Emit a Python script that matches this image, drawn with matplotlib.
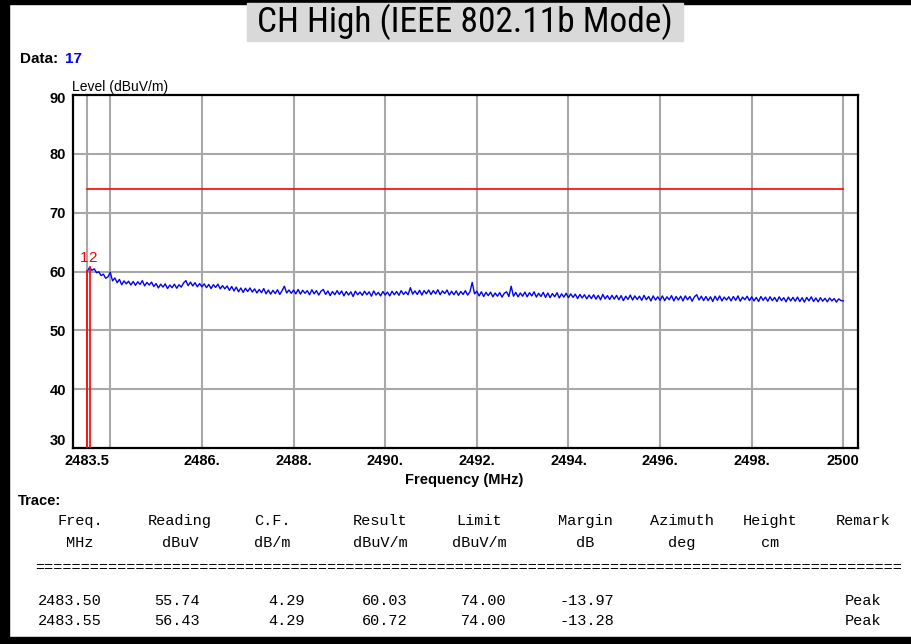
import numpy as np
import matplotlib
matplotlib.use("Agg")
import matplotlib.pyplot as plt
import matplotlib.patches as mpatches
from matplotlib import font_manager
from matplotlib.transforms import ScaledTranslation

# Sweep: 2483.5 - 2500 MHz, 0.05 MHz step (331 points)
freq_start = 2483.5
freq_stop = 2500.0
level = [
    60.03, 60.72, 60.20, 60.45, 59.80, 59.95, 59.30, 59.55, 58.85, 59.10,
    59.85, 58.40, 58.90, 58.10, 58.65, 57.75, 58.40, 57.90, 58.35, 57.70,
    58.30, 57.65, 58.25, 57.80, 58.45, 57.55, 58.15, 57.70, 58.20, 57.45,
    57.95, 57.20, 57.85, 57.35, 57.90, 57.10, 57.70, 57.25, 57.85, 57.15,
    57.75, 57.35, 58.05, 58.45, 57.60, 58.20, 57.55, 58.10, 57.40, 57.95,
    57.40, 57.90, 57.25, 57.80, 57.10, 57.75, 57.30, 57.85, 57.05, 57.60,
    57.05, 57.55, 56.80, 57.45, 56.70, 57.35, 56.55, 57.20, 56.45, 57.15,
    56.60, 57.20, 56.50, 57.05, 56.35, 56.95, 56.40, 57.10, 56.20, 56.85,
    56.15, 56.80, 56.25, 56.90, 56.10, 56.75, 57.50, 56.35, 56.85, 56.30,
    56.85, 56.20, 56.95, 56.15, 56.80, 56.30, 56.75, 56.05, 56.90, 56.20,
    56.75, 56.00, 56.65, 56.95, 56.10, 56.70, 55.90, 56.60, 56.05, 56.75,
    56.10, 56.70, 55.85, 56.60, 56.00, 56.55, 55.75, 56.65, 56.05, 56.50,
    55.95, 56.65, 56.05, 56.55, 55.80, 56.70, 56.00, 56.45, 55.85, 56.60,
    56.00, 56.50, 55.85, 56.65, 56.05, 56.60, 55.95, 56.75, 56.10, 56.55,
    56.05, 57.25, 56.15, 56.70, 56.10, 56.80, 56.00, 56.75, 56.20, 56.85,
    56.10, 56.75, 56.20, 56.90, 56.05, 56.70, 56.25, 56.85, 56.00, 56.65,
    56.05, 56.70, 55.95, 56.60, 56.10, 56.75, 56.00, 56.55, 58.15, 56.20,
    56.65, 55.85, 56.55, 55.75, 56.45, 55.90, 56.50, 55.70, 56.35, 55.80,
    56.40, 55.65, 56.30, 56.55, 55.75, 57.50, 55.80, 56.45, 55.70, 56.35,
    55.80, 56.50, 55.70, 56.40, 55.85, 56.55, 55.65, 56.30, 55.75, 56.45,
    55.60, 56.35, 55.55, 56.25, 55.70, 56.40, 55.50, 56.20, 55.65, 56.30,
    55.55, 56.20, 55.60, 56.15, 55.40, 56.10, 55.50, 56.05, 55.35, 56.00,
    55.40, 56.05, 55.30, 55.95, 55.20, 56.10, 55.35, 55.90, 55.25, 55.95,
    55.30, 55.95, 55.20, 55.90, 55.05, 55.80, 55.25, 56.00, 55.15, 55.85,
    55.25, 55.80, 55.10, 55.95, 55.20, 55.75, 55.00, 55.85, 55.15, 55.70,
    55.10, 55.85, 55.05, 55.70, 55.20, 55.90, 55.00, 55.75, 55.15, 55.80,
    55.00, 55.85, 55.20, 55.75, 54.95, 55.70, 56.05, 55.15, 55.80, 55.05,
    55.75, 55.05, 55.70, 54.90, 55.80, 55.10, 55.85, 55.00, 55.65, 55.15,
    55.70, 55.00, 55.75, 55.10, 55.85, 54.95, 55.65, 55.20, 55.80, 55.05,
    55.70, 55.00, 55.60, 54.90, 55.75, 55.10, 55.65, 54.95, 55.70, 55.05,
    55.60, 54.90, 55.70, 55.05, 55.55, 54.85, 55.65, 55.00, 55.60, 54.95,
    55.65, 54.90, 55.55, 54.80, 55.60, 55.00, 55.70, 54.90, 55.50, 54.85,
    55.55, 54.95, 55.45, 54.85, 55.50, 55.00, 55.40, 54.80, 55.35, 55.05,
    55.00,
]
freq = np.linspace(freq_start, freq_stop, len(level))
limit = 74.0

# marker table
mk_freq = [2483.50, 2483.55]
mk_reading = [55.74, 56.43]
mk_cf = [4.29, 4.29]
mk_result = [60.03, 60.72]
mk_limit = [74.00, 74.00]
mk_margin = [-13.97, -13.28]
mk_remark = ["Peak", "Peak"]
mk_names = ["1", "2"]

grid_x = [2483.5, 2484, 2486, 2488, 2490, 2492, 2494, 2496, 2498, 2500]
xtick_vals = [2483.5, 2486, 2488, 2490, 2492, 2494, 2496, 2498, 2500]
xtick_labels = ["2483.5", "2486.", "2488.", "2490.", "2492.", "2494.", "2496.", "2498.", "2500"]
ytick_vals = [30, 40, 50, 60, 70, 80, 90]

W, H = 912, 644
def fx(x):
    return x / W
def fy(y):
    return 1 - y / H

# narrow face for the heading if one is around
names = {f.name for f in font_manager.fontManager.ttflist}
title_font = "DejaVu Sans"
for cand in ["Liberation Sans Narrow", "Arial Narrow", "Roboto Condensed", "Open Sans Condensed"]:
    if cand in names:
        title_font = cand
        break

fig = plt.figure(figsize=(W / 100, H / 100), dpi=100)
fig.patch.set_facecolor("white")

# black frame on the left / top / bottom of the page
for x0, y0, w, h in [(0, 0, 9, H), (0, 0, W, 4), (0, 637, W, 7)]:
    fig.patches.append(mpatches.Rectangle((fx(x0), fy(y0 + h)), w / W, h / H,
                                          transform=fig.transFigure, color="black", zorder=0))

# title in a grey box
fig.patches.append(mpatches.Rectangle((fx(247), fy(41)), 436 / W, 38 / H,
                                      transform=fig.transFigure, color="#d9d9d9", zorder=1))
fig.text(fx(465), fy(22), "CH High (IEEE 802.11b Mode)", ha="center", va="center",
         fontsize=25.5, family=title_font, fontstretch="condensed", zorder=2)

fig.text(fx(20), fy(59), "Data:", ha="left", va="center", fontsize=11, fontweight="bold",
         family="Liberation Sans")
fig.text(fx(65), fy(59), "17", ha="left", va="center", fontsize=11, fontweight="bold",
         family="Liberation Sans", color="#0000ff")

ax = fig.add_axes([fx(72.7), fy(448), (858 - 72.7) / W, (448 - 95) / H])
ax.set_xlim(2483.18, 2500.32)
ax.set_ylim(30, 90)

for gx in grid_x:
    ax.axvline(gx, color="#a8a8a8", lw=1.5, zorder=1)
for gy in ytick_vals[1:-1]:
    ax.axhline(gy, color="#a8a8a8", lw=1.5, zorder=1)

# limit line
ax.plot([freq_start, freq_stop], [limit, limit], color="#ff0000", lw=1.2, zorder=3)

# trace
ax.plot(freq, level, color="#0000ff", lw=1.0, zorder=4)

# markers
for f, r in zip(mk_freq, mk_result):
    ax.plot([f, f], [30, r], color="#ff0000", lw=1.2, zorder=5)
ax.text(mk_freq[0] + 0.03, mk_result[1] + 1.6, mk_names[0], color="#ff0000", fontsize=11,
        ha="right", va="center", family="Liberation Sans", zorder=6)
ax.text(mk_freq[1] - 0.02, mk_result[1] + 1.6, mk_names[1], color="#ff0000", fontsize=11,
        ha="left", va="center", family="Liberation Sans", zorder=6)

for s in ax.spines.values():
    s.set_color("black")
    s.set_linewidth(1.6)

ax.set_xticks(xtick_vals)
ax.set_xticklabels(xtick_labels, fontsize=10.5, fontweight="bold", family="Liberation Sans")
ax.set_yticks(ytick_vals)
ax.set_yticklabels([str(v) for v in ytick_vals], fontsize=10.5, fontweight="bold", family="Liberation Sans")
ax.tick_params(length=0, pad=5)
ax.tick_params(axis="x", pad=4)
for lab in ax.get_yticklabels():
    if lab.get_text() == "90":
        lab.set_transform(lab.get_transform() + ScaledTranslation(0, -1.5 / 72, fig.dpi_scale_trans))
    if lab.get_text() == "30":
        lab.set_transform(lab.get_transform() + ScaledTranslation(0, 6 / 72, fig.dpi_scale_trans))

fig.text(fx(72), fy(87), "Level (dBuV/m)", ha="left", va="center", fontsize=10,
         family="Liberation Sans")
fig.text(fx(464), fy(480), "Frequency (MHz)", ha="center", va="center", fontsize=10.5,
         fontweight="bold", family="Liberation Sans")

# trace table
fig.text(fx(18), fy(501), "Trace:", ha="left", va="center", fontsize=10.5, fontweight="bold",
         family="Liberation Sans")
mono = dict(fontsize=11, family="Liberation Mono", va="center")
head1 = ["Freq.", "Reading", "C.F.", "Result", "Limit", "Margin", "Azimuth", "Height", "Remark"]
head2 = ["MHz", "dBuV", "dB/m", "dBuV/m", "dBuV/m", "dB", "deg", "cm", ""]
head_x = [80, 180, 272, 380, 479, 585, 682, 770, 863]
for hx, t1, t2 in zip(head_x, head1, head2):
    fig.text(fx(hx), fy(521), t1, ha="center", **mono)
    fig.text(fx(hx), fy(543), t2, ha="center", **mono)
fig.text(fx(35), fy(568), "=" * 95, ha="left", **mono)

col_right = [102, 200, 305, 408, 507, 614]
for i in range(len(mk_freq)):
    y = fy(601 + 20 * i)
    vals = ["%.2f" % mk_freq[i], "%.2f" % mk_reading[i], "%.2f" % mk_cf[i],
            "%.2f" % mk_result[i], "%.2f" % mk_limit[i], "%.2f" % mk_margin[i]]
    for cx, v in zip(col_right, vals):
        fig.text(fx(cx), y, v, ha="right", **mono)
    fig.text(fx(845), y, mk_remark[i], ha="left", **mono)

fig.savefig("out.png", dpi=100)
